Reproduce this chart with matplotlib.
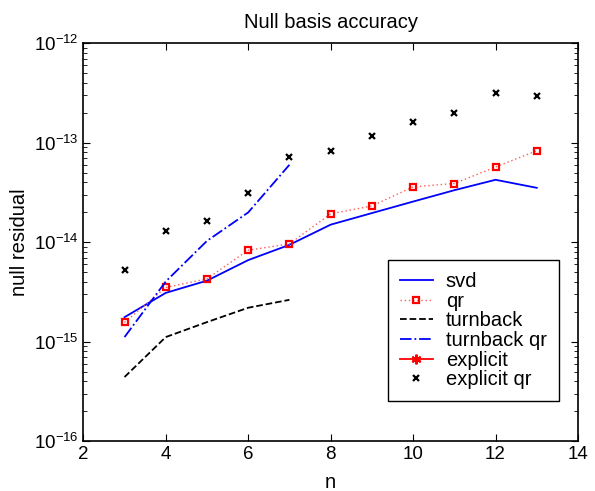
import matplotlib
matplotlib.use("Agg")
import matplotlib.pyplot as plt

plt.rcParams['font.family'] = ['Liberation Sans', 'DejaVu Sans']

# matrix sizes
n_all = [3, 4, 5, 6, 7, 8, 9, 10, 11, 12, 13]
n_turn = [3, 4, 5, 6, 7]

# null residuals per method
svd_res = [1.76e-15, 3.09e-15, 4.1e-15, 6.6e-15, 9.4e-15, 1.5e-14,
           1.96e-14, 2.56e-14, 3.33e-14, 4.24e-14, 3.52e-14]
qr_res = [1.56e-15, 3.5e-15, 4.28e-15, 8.3e-15, 9.6e-15, 1.93e-14,
          2.31e-14, 3.6e-14, 3.89e-14, 5.7e-14, 8.3e-14]
turnback_res = [4.4e-16, 1.11e-15, 1.57e-15, 2.19e-15, 2.63e-15]
turnback_qr_res = [1.11e-15, 4.02e-15, 1.03e-14, 1.99e-14, 6.0e-14]
explicit_n = []      # explicit method gave no usable residuals
explicit_res = []
explicit_qr_res = [5.26e-15, 1.29e-14, 1.64e-14, 3.13e-14, 7.2e-14, 8.2e-14,
                   1.17e-13, 1.60e-13, 2.0e-13, 3.2e-13, 2.96e-13]

fig = plt.figure(figsize=(5.95, 4.91), dpi=100)
ax = fig.add_axes([0.14, 0.1018, 0.8314, 0.81])

ax.semilogy(n_all, svd_res, '-', color='blue', lw=1.3, label='svd')
ax.semilogy(n_all, qr_res, color='#ff5a5a', ls=(0, (1, 2)), lw=1.0, marker='s', ms=5,
            mfc='none', mec='red', mew=1.6, label='qr')
ax.semilogy(n_turn, turnback_res, '--', color='black', lw=1.3, label='turnback')
ax.semilogy(n_turn, turnback_qr_res, '-.', color='blue', lw=1.3, label='turnback qr')
ax.semilogy(explicit_n, explicit_res, '-', color='red', lw=1.3, marker=(6, 2, 0), ms=7,
            mew=1.5, label='explicit')
ax.semilogy(n_all, explicit_qr_res, 'x', color='black', ms=5, mew=1.6,
            label='explicit qr')

ax.set_xlim(2, 14)
ax.set_ylim(1e-16, 1e-12)
ax.set_xticks([2, 4, 6, 8, 10, 12, 14])
ax.set_yticks([1e-16, 1e-15, 1e-14, 1e-13, 1e-12])

ax.tick_params(which='both', direction='in', top=True, right=True, labelsize=13.5)
ax.tick_params(which='major', length=5, width=0.8)
ax.tick_params(which='minor', length=3, width=0.6)
for sp in ax.spines.values():
    sp.set_linewidth(1.2)

ax.set_title('Null basis accuracy', fontsize=14.5, pad=11)
ax.set_xlabel('n', fontsize=14.5, labelpad=7)
ax.set_ylabel('null residual', fontsize=14.5, labelpad=3)

leg = ax.legend(loc='upper right', bbox_to_anchor=(0.9616, 0.455), borderaxespad=0,
                fontsize=14.5, fancybox=False, edgecolor='black', framealpha=1,
                handlelength=1.65, handletextpad=0.65, labelspacing=0.03,
                borderpad=0.6)
leg.get_frame().set_linewidth(1.0)

fig.savefig('out.png', dpi=100)
